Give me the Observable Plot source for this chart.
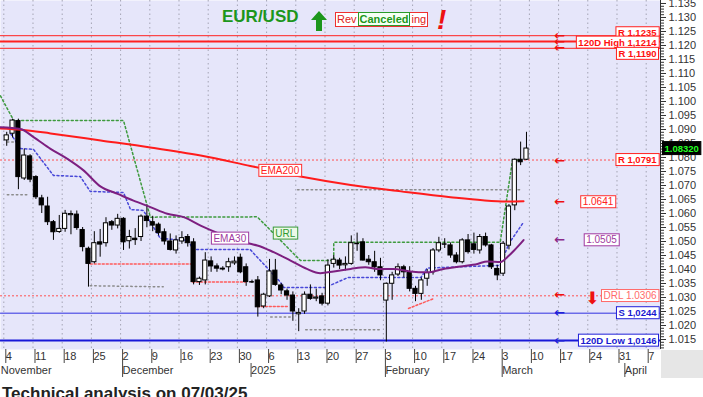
<!DOCTYPE html>
<html><head><meta charset="utf-8">
<script src="https://cdn.jsdelivr.net/npm/d3@7"></script>
<script src="https://cdn.jsdelivr.net/npm/@observablehq/plot@0.6"></script>
<style>
html,body{margin:0;padding:0;background:#fff;overflow:hidden;}
#wrap{position:relative;width:703px;height:397px;overflow:hidden;font-family:"Liberation Sans",Arial,sans-serif;}
#chart{position:absolute;left:0;top:0;}
.ov{position:absolute;white-space:nowrap;}
</style></head><body>
<div id="wrap">
<div id="chart"></div>
<div class="ov" style="left:661px;top:350px;width:42px;height:28px;background:#e6e6e6"></div>
<div class="ov" style="left:222px;top:7px;font:bold 17px 'Liberation Sans',Arial;color:#1c961c">EUR/USD</div>
<svg class="ov" style="left:311px;top:11px" width="16" height="20"><polygon points="8,0 16,9 11,9 11,20 5,20 5,9 0,9" fill="#1c961c"/></svg>
<div class="ov" style="left:335px;top:12px;height:13px;line-height:13px;border:1px solid #ee3030;background:#fff;font:11px 'Liberation Sans',Arial;color:#e02020;padding:0 1px">Rev<span style="display:inline-block;border:1px solid #2a9a2a;background:#f4fff4;color:#1c961c;font-weight:bold;line-height:12px;padding:0 1px;margin:-1px 1px 0 1px">Canceled</span>ing</div>
<div class="ov" style="left:437px;top:4px;font:italic bold 28px 'Liberation Sans',Arial;color:#ee1111">!</div>
<div class="ov" style="left:2px;top:384px;font:bold 17px 'Liberation Sans',Arial;color:#222">Technical analysis on 07/03/25</div>
</div>
<script>
// ---- candle data (EUR/USD daily) ----
const dates = ["2024-11-04","2024-11-05","2024-11-06","2024-11-07","2024-11-08",
"2024-11-11","2024-11-12","2024-11-13","2024-11-14","2024-11-15",
"2024-11-18","2024-11-19","2024-11-20","2024-11-21","2024-11-22",
"2024-11-25","2024-11-26","2024-11-27","2024-11-28","2024-11-29",
"2024-12-02","2024-12-03","2024-12-04","2024-12-05","2024-12-06",
"2024-12-09","2024-12-10","2024-12-11","2024-12-12","2024-12-13",
"2024-12-16","2024-12-17","2024-12-18","2024-12-19","2024-12-20",
"2024-12-23","2024-12-24","2024-12-25","2024-12-26","2024-12-27",
"2024-12-30","2024-12-31","2025-01-01","2025-01-02","2025-01-03",
"2025-01-06","2025-01-07","2025-01-08","2025-01-09","2025-01-10",
"2025-01-13","2025-01-14","2025-01-15","2025-01-16","2025-01-17",
"2025-01-20","2025-01-21","2025-01-22","2025-01-23","2025-01-24",
"2025-01-27","2025-01-28","2025-01-29","2025-01-30","2025-01-31",
"2025-02-03","2025-02-04","2025-02-05","2025-02-06","2025-02-07",
"2025-02-10","2025-02-11","2025-02-12","2025-02-13","2025-02-14",
"2025-02-17","2025-02-18","2025-02-19","2025-02-20","2025-02-21",
"2025-02-24","2025-02-25","2025-02-26","2025-02-27","2025-02-28",
"2025-03-03","2025-03-04","2025-03-05","2025-03-06","2025-03-07"];
const open  = [1.0861,1.0885,1.0930,1.0725,1.0804, 1.0730,1.0654,1.0625,1.0569,1.0534, 1.0545,1.0594,1.0596,1.0541,1.0474, 1.0426,1.0497,1.0494,1.0569,1.0557,
 1.0581,1.0501,1.0510,1.0516,1.0589, 1.0569,1.0560,1.0533,1.0500,1.0468, 1.0500,1.0516,1.0497,1.0355,1.0361, 1.0429,1.0411,1.0403,1.0408,1.0422,
 1.0442,1.0408,1.0357,1.0361,1.0268, 1.0304,1.0396,1.0343,1.0322,1.0307, 1.0240,1.0250,1.0310,1.0296,1.0304, 1.0278,1.0420,1.0432,1.0415,1.0420,
 1.0492,1.0497,1.0435,1.0426,1.0408, 1.0289,1.0349,1.0382,1.0408,1.0390, 1.0331,1.0313,1.0367,1.0390,1.0468, 1.0492,1.0486,1.0450,1.0426,1.0504,
 1.0490,1.0468,1.0516,1.0486,1.0402, 1.0385,1.0485,1.0629,1.0792,1.0792];
const high  = [1.0890,1.0937,1.0937,1.0830,1.0810, 1.0735,1.0665,1.0658,1.0575,1.0593, 1.0611,1.0609,1.0609,1.0550,1.0480, 1.0535,1.0543,1.0585,1.0575,1.0597,
 1.0585,1.0540,1.0546,1.0595,1.0629, 1.0590,1.0566,1.0545,1.0527,1.0520, 1.0535,1.0525,1.0510,1.0373,1.0460, 1.0445,1.0420,1.0410,1.0440,1.0445,
 1.0455,1.0420,1.0362,1.0375,1.0315, 1.0436,1.0436,1.0350,1.0330,1.0320, 1.0260,1.0320,1.0345,1.0330,1.0315, 1.0435,1.0450,1.0440,1.0445,1.0520,
 1.0530,1.0510,1.0450,1.0465,1.0440, 1.0352,1.0390,1.0420,1.0415,1.0410, 1.0340,1.0370,1.0400,1.0475,1.0515, 1.0510,1.0495,1.0460,1.0510,1.0525,
 1.0530,1.0525,1.0530,1.0490,1.0415, 1.0500,1.0632,1.0795,1.0855,1.0890];
const low   = [1.0840,1.0870,1.0685,1.0718,1.0710, 1.0650,1.0600,1.0557,1.0504,1.0529, 1.0533,1.0524,1.0540,1.0463,1.0337, 1.0420,1.0444,1.0480,1.0540,1.0545,
 1.0468,1.0473,1.0486,1.0500,1.0549, 1.0535,1.0520,1.0487,1.0466,1.0455, 1.0490,1.0480,1.0345,1.0343,1.0345, 1.0390,1.0390,1.0395,1.0390,1.0415,
 1.0385,1.0340,1.0350,1.0230,1.0260, 1.0300,1.0340,1.0310,1.0290,1.0215, 1.0178,1.0240,1.0290,1.0285,1.0270, 1.0270,1.0405,1.0400,1.0395,1.0415,
 1.0465,1.0430,1.0415,1.0390,1.0360, 1.0141,1.0290,1.0375,1.0370,1.0320, 1.0285,1.0290,1.0340,1.0380,1.0460, 1.0475,1.0440,1.0420,1.0420,1.0455,
 1.0455,1.0455,1.0480,1.0400,1.0360, 1.0375,1.0470,1.0610,1.0771,1.0789];
const close = [1.0879,1.0932,1.0730,1.0807,1.0721, 1.0658,1.0629,1.0569,1.0533,1.0545, 1.0599,1.0598,1.0548,1.0480,1.0420, 1.0494,1.0489,1.0565,1.0557,1.0581,
 1.0497,1.0516,1.0505,1.0589,1.0573, 1.0557,1.0530,1.0500,1.0470,1.0504, 1.0512,1.0494,1.0355,1.0367,1.0432, 1.0411,1.0403,1.0400,1.0426,1.0428,
 1.0390,1.0355,1.0355,1.0265,1.0310, 1.0393,1.0345,1.0325,1.0307,1.0250, 1.0245,1.0310,1.0295,1.0300,1.0278, 1.0414,1.0435,1.0414,1.0420,1.0494,
 1.0494,1.0432,1.0426,1.0408,1.0379, 1.0349,1.0379,1.0408,1.0390,1.0331, 1.0313,1.0361,1.0387,1.0468,1.0494, 1.0490,1.0450,1.0426,1.0504,1.0462,
 1.0470,1.0516,1.0486,1.0408,1.0379, 1.0492,1.0625,1.0792,1.0783,1.0832];

// ---- indicator lines: [trading-day index, price] ----
const ema200 = [[-0.57,1.0904],[3,1.0899],[8,1.0886],[16.6,1.0861],[25.1,1.0836],[33.7,1.0807],[42.2,1.0770],[50.8,1.0732],[59.4,1.0702],[68,1.0679],[76.5,1.0658],[82,1.0647],[86,1.0643],[89,1.0644]];
const ema30 = [[-0.57,1.0908],[2.86,1.0902],[5.09,1.0873],[8.0,1.0831],[10.9,1.0795],[13.65,1.0754],[16.6,1.0696],[19.5,1.0670],[22.2,1.0646],[25.1,1.0623],[28.0,1.0599],[30.8,1.0587],[33.7,1.0557],[39.3,1.0510],[42.2,1.0492],[43.4,1.0486],[46.2,1.0462],[49.1,1.0432],[51.9,1.0402],[54.2,1.0387],[56.5,1.0393],[59.4,1.0402],[61.9,1.0408],[63.9,1.0402],[66.7,1.0402],[69.6,1.0393],[72.5,1.0390],[75.3,1.0402],[78.2,1.0411],[81.1,1.0420],[82.8,1.0429],[85.1,1.0427],[86.2,1.0444],[87.3,1.0466],[88.2,1.0486],[89.0,1.0505]];
const urlLine = [[-0.57,1.1020],[1.7,1.0932],[20.5,1.0932],[25.1,1.0587],[43.4,1.0588],[50.8,1.0432],[56.5,1.0432],[56.5,1.0497],[85.0,1.0497],[87.1,1.0790],[88.5,1.0792]];
const lowerLine = [[1.15,1.0886],[2.86,1.0832],[5.09,1.0829],[8.5,1.0736],[13.1,1.0732],[14.8,1.0679],[20.5,1.0675],[21.7,1.0614],[23.9,1.0611],[26.8,1.0511],[31.5,1.0504],[32.5,1.0471],[42.2,1.0471],[47.4,1.0354],[47.9,1.0336],[55.1,1.0336],[58.9,1.0371],[71.4,1.0371],[72.5,1.0405],[85.0,1.0415],[86.5,1.0493],[89.0,1.0569]];
const pinkSegs = [[[14.8,1.0420],[32.0,1.0420]],[[32.3,1.0355],[41.4,1.0355]],[[43.4,1.0268],[48.7,1.0268]],[[69.3,1.0261],[73.6,1.0296]]];
const greySegs = [[[0.6,1.0855],[2.9,1.0855]],[[0.6,1.0667],[4.1,1.0667]],[[14.8,1.0342],[27.3,1.0338]],[[45.7,1.0230],[49.1,1.0230]],[[51.7,1.0185],[64.5,1.0185]],[[50.3,1.0685],[88.5,1.0685]]];

// ---- horizontal levels ----
const resistLevels = [1.1235, 1.1214, 1.1190];
const resistLabels = ["R 1,1235", "120D High 1,1214", "R 1,1190"];
const r1 = 1.0791, drl = 1.0306, s1 = 1.0244, low120 = 1.0146;
const lastPrice = 1.0832;
const ema200Last = 1.0641, ema30Last = 1.0505;

// ---- axis labels ----
const weekLabels = ["4","11","18","25","2","9","16","23","30","6","13","20","27","3","10","17","24","3","10","17","24","31","7"];
const monthNames = ["November","December","2025","February","March","April"];
const monthStarts = ["2024-11-04","2024-12-02","2025-01-01","2025-02-03","2025-03-03","2025-04-01"];
const yTicks = d3.range(1015, 1136, 5).map(v => v / 1000);
const yMinor = d3.range(1012, 1136, 1).filter(v => v % 5 !== 0).map(v => v / 1000);

function tIndex(s) {
  const t = Date.parse(s + "T00:00:00Z"), base = Date.UTC(2024, 10, 4);
  const days = Math.round((t - base) / 864e5);
  const w = Math.floor(days / 7), r = ((days % 7) + 7) % 7;
  return w * 5 + Math.min(r, 5);
}
const rows = dates.map((d, i) => ({i: tIndex(d) + 0.5, o: open[i], h: high[i], l: low[i], c: close[i]}));
const up = rows.filter(r => r.c > r.o + 0.00025);
const dn = rows.filter(r => r.c < r.o - 0.00025);
const doji = rows.filter(r => Math.abs(r.c - r.o) <= 0.00025);
const weekBounds = weekLabels.map((_, k) => k * 5);
const weekMap = new Map(weekBounds.map((b, k) => [b, weekLabels[k]]));
const monthIdx = monthStarts.map(tIndex);
const monthMap = new Map(monthIdx.map((b, k) => [b, monthNames[k]]));
const xMax = 112.45;
const font = "'Liberation Sans', Arial, sans-serif";
const arrowX = tIndex("2025-03-17") + 0.2;

const segLines = (segs, opts) => segs.map(s => Plot.line(s, {x: d => d[0], y: d => d[1], ...opts}));

const chart = Plot.plot({
  width: 703, height: 378,
  marginLeft: 0, marginRight: 43, marginTop: 0, marginBottom: 29,
  x: {domain: [-0.565, xMax], axis: null},
  y: {domain: [1.011429, 1.136071], axis: null},
  style: {fontFamily: font, background: "#fff", overflow: "hidden"},
  marks: [
    Plot.frame({fill: "#e6e6fa", stroke: "none"}),
    Plot.ruleX(weekBounds, {stroke: "#a4a4b4", strokeDasharray: "1.5,3"}),
    // resistance lines
    Plot.ruleY(resistLevels, {stroke: "#ff2020", strokeWidth: (d, i) => i === 1 ? 2 : 1}),
    Plot.ruleY([r1, drl], {stroke: "#ff5050", strokeDasharray: "2,2"}),
    Plot.ruleY([s1], {stroke: "#3030e0", strokeWidth: 1}),
    Plot.ruleY([low120], {stroke: "#1818d8", strokeWidth: 2}),
    // dotted indicator lines
    ...segLines(greySegs, {stroke: "#8c8c8c", strokeDasharray: "1.5,3"}),
    ...segLines(pinkSegs, {stroke: "#ff5a5a", strokeDasharray: "2,2"}),
    Plot.line(urlLine, {x: d => d[0], y: d => d[1], stroke: "#3d9a3d", strokeDasharray: "2,2.5"}),
    Plot.line(lowerLine, {x: d => d[0], y: d => d[1], stroke: "#4848d8", strokeDasharray: "2,2.5"}),
    // candles
    Plot.ruleX(rows, {x: "i", y1: "l", y2: "h", stroke: "#000"}),
    Plot.rect(up, {x1: r => r.i - 0.36, x2: r => r.i + 0.36, y1: "o", y2: "c", fill: "#fff", stroke: "#000"}),
    Plot.rect(dn, {x1: r => r.i - 0.36, x2: r => r.i + 0.36, y1: "o", y2: "c", fill: "#000", stroke: "#000"}),
    Plot.ruleY(doji, {y: r => (r.o + r.c) / 2, x1: r => r.i - 0.4, x2: r => r.i + 0.4, stroke: "#000", strokeWidth: 1.5}),
    // EMAs
    Plot.line(ema200, {x: d => d[0], y: d => d[1], stroke: "#ff1c1c", strokeWidth: 2, curve: "monotone-x"}),
    Plot.line(ema30, {x: d => d[0], y: d => d[1], stroke: "#7d1f80", strokeWidth: 2, curve: "monotone-x"}),
    // right axis
    Plot.ruleX([xMax], {stroke: "#333"}),
    Plot.axisY({anchor: "right", ticks: yMinor, tickSize: 3, tickFormat: () => "", stroke: "#333"}),
    Plot.axisY({anchor: "right", ticks: yTicks, tickSize: 5, tickPadding: 3, tickFormat: d3.format(".3f"), fontSize: 11, fill: "#333", stroke: "#333"}),
    // bottom axis rows
    Plot.axisX({anchor: "bottom", ticks: weekBounds, tickFormat: d => weekMap.get(d), tickSize: 14, tickPadding: -11, textAnchor: "start", dx: 2, fontSize: 11, fill: "#333", stroke: "#444", lineAnchor: "top"}),
    Plot.axisX({anchor: "bottom", ticks: monthIdx.slice(1), tickFormat: d => monthMap.get(d), tickSize: 14, tickPadding: -11, textAnchor: "start", dx: 2, dy: 14, fontSize: 11, fill: "#333", stroke: "#444", lineAnchor: "top"}),
    Plot.axisX({anchor: "bottom", ticks: [monthIdx[0]], tickFormat: d => monthMap.get(d), tickSize: 0, tickPadding: 3, textAnchor: "start", dx: -3, dy: 14, fontSize: 11, fill: "#333", lineAnchor: "top"}),
    // arrows
    Plot.text([...resistLevels, r1 - 0.0002, drl + 0.0002], {x: arrowX, y: d => d, text: () => "←", fill: "#ee1111", fontSize: 13, fontWeight: "bold", fontFamily: "DejaVu Sans"}),
    Plot.text([ema200Last], {x: arrowX, y: d => d, text: () => "←", fill: "#ee1111", fontSize: 13, fontWeight: "bold", fontFamily: "DejaVu Sans"}),
    Plot.text([ema30Last], {x: arrowX, y: d => d, text: () => "←", fill: "#8a2a8a", fontSize: 13, fontWeight: "bold", fontFamily: "DejaVu Sans"}),
    Plot.text([s1, low120], {x: arrowX, y: d => d, text: () => "←", fill: "#2020d8", fontSize: 13, fontWeight: "bold", fontFamily: "DejaVu Sans"}),
    Plot.text([drl - 0.0008], {x: tIndex("2025-03-24") + 0.8, y: d => d, text: () => "⬇", fill: "#ee1111", fontSize: 17, fontFamily: "DejaVu Sans"}),
    // boxed labels
    Plot.text([{v: resistLevels[0], t: resistLabels[0]}], {y: "v", text: "t", frameAnchor: "right", textAnchor: "end", dx: -4, dy: -2.5, fill: "#ff1010", fontWeight: "bold", fontSize: 9.5, className: "bx-red"}),
    Plot.text([{v: resistLevels[1], t: resistLabels[1]}], {y: "v", text: "t", frameAnchor: "right", textAnchor: "end", dx: -4, dy: 1, fill: "#ff1010", fontWeight: "bold", fontSize: 9.5, className: "bx-red"}),
    Plot.text([{v: resistLevels[2], t: resistLabels[2]}], {y: "v", text: "t", frameAnchor: "right", textAnchor: "end", dx: -4, dy: 5.5, fill: "#ff1010", fontWeight: "bold", fontSize: 9.5, className: "bx-red"}),
    Plot.text([{v: r1, t: "R 1,0791"}], {y: "v", text: "t", frameAnchor: "right", textAnchor: "end", dx: -4, fill: "#ff1010", fontWeight: "bold", fontSize: 9.5, className: "bx-red"}),
    Plot.text([{v: drl, t: "DRL 1.0306"}], {y: "v", text: "t", frameAnchor: "right", textAnchor: "end", dx: -4, fill: "#ff6a6a", fontSize: 10, className: "bx-pink"}),
    Plot.text([{v: s1, t: "S 1,0244"}, {v: low120, t: "120D Low 1,0146"}], {y: "v", text: "t", frameAnchor: "right", textAnchor: "end", dx: -4, fill: "#1818d0", fontWeight: "bold", fontSize: 9.5, className: "bx-blue"}),
    Plot.text([{x: 47.3, v: 1.0753, t: "EMA200"}, {x: 101.75, v: ema200Last, t: "1.0641"}], {x: "x", y: "v", text: "t", fill: "#ff2020", fontSize: 10, className: "bx-red2"}),
    Plot.text([{x: 38.7, v: 1.0511, t: "EMA30"}, {x: 102.35, v: ema30Last, t: "1.0505"}], {x: "x", y: "v", text: "t", fill: "#a03aa0", fontSize: 10, className: "bx-purple"}),
    Plot.text([{x: 48.2, v: 1.0529, t: "URL"}], {x: "x", y: "v", text: "t", fill: "#2f9a2f", fontSize: 10, className: "bx-green"}),
    Plot.text([{v: lastPrice, t: "1.08320"}], {y: "v", text: "t", frameAnchor: "right", textAnchor: "start", dx: 4, fill: "#22ff22", fontWeight: "bold", fontSize: 9.5, className: "bx-black"})
  ]
});
document.getElementById("chart").appendChild(chart);

function boxify(cls, stroke, fill, px = 2, py = 0.5) {
  chart.querySelectorAll(`g.${cls} text`).forEach(t => {
    const b = t.getBBox();
    const r = document.createElementNS("http://www.w3.org/2000/svg", "rect");
    r.setAttribute("x", b.x - px); r.setAttribute("y", b.y - py);
    r.setAttribute("width", b.width + 2 * px); r.setAttribute("height", b.height + 2 * py);
    r.setAttribute("fill", fill); r.setAttribute("stroke", stroke); r.setAttribute("stroke-width", 1);
    const tr = t.getAttribute("transform"); if (tr) r.setAttribute("transform", tr);
    t.parentNode.insertBefore(r, t);
  });
}
boxify("bx-red", "#ff2020", "#fff");
boxify("bx-red2", "#ff3030", "#fff");
boxify("bx-pink", "#ff6a6a", "#fff");
boxify("bx-blue", "#2020d8", "#fff");
boxify("bx-purple", "#a03aa0", "#fff");
boxify("bx-green", "#3a9a3a", "#ecf9e6");
boxify("bx-black", "#000", "#000", 2, 1);
</script>
</body></html>
